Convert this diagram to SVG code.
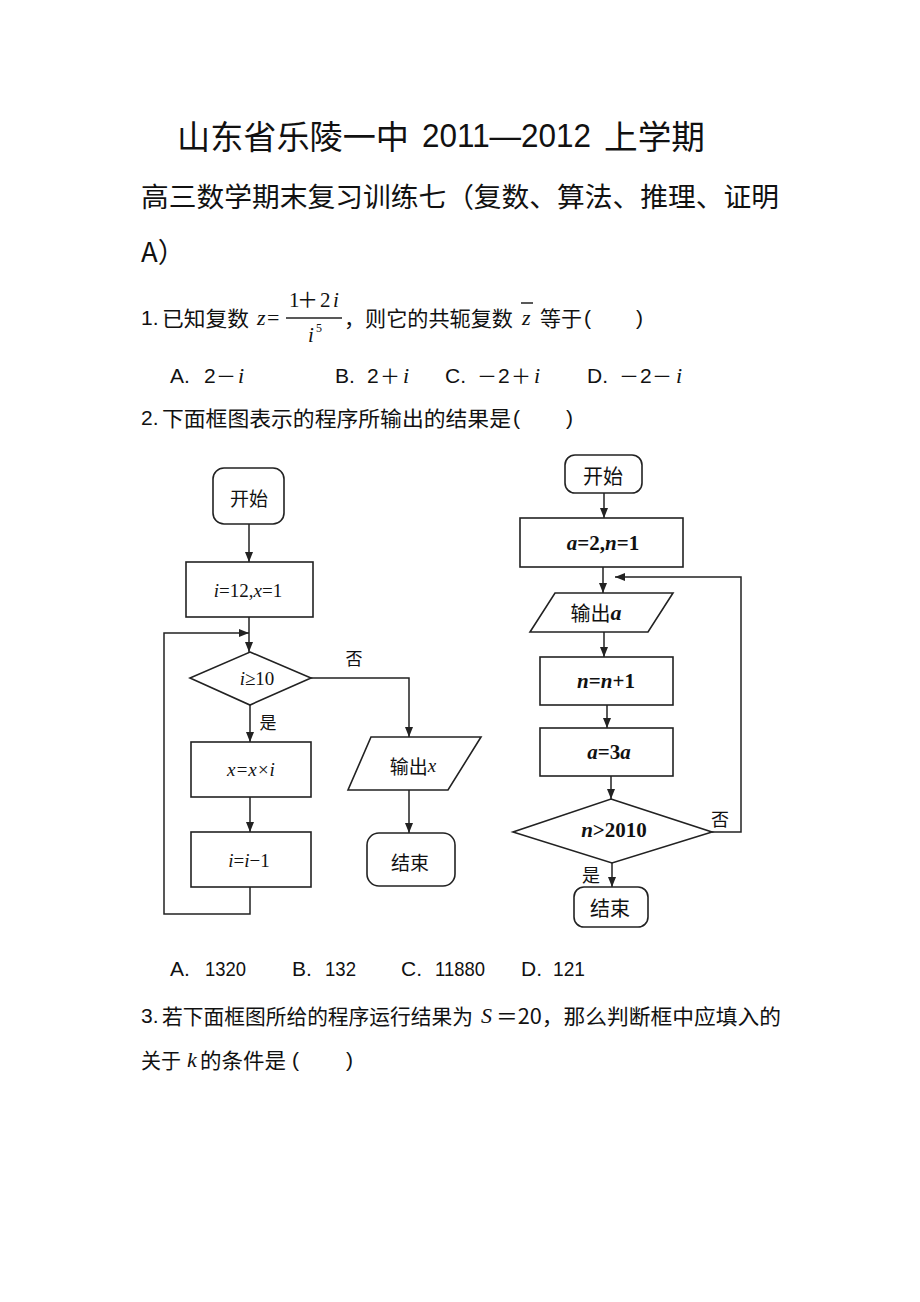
<svg xmlns="http://www.w3.org/2000/svg" width="920" height="1302" viewBox="0 0 920 1302">
<style>
text{dominant-baseline:central;fill:#111}
.cn{font-family:"Noto Sans CJK SC",sans-serif}
.lat{font-family:"Liberation Sans","Noto Sans CJK SC",sans-serif}
.m{font-family:"Liberation Serif","Noto Sans CJK SC",serif}
.it{font-style:italic}
.b{font-weight:bold}
.box{fill:#fff;stroke:#222;stroke-width:1.6}
.ln{fill:none;stroke:#222;stroke-width:1.5}
.ar{fill:none;stroke:#222;stroke-width:1.5;marker-end:url(#ah)}
</style>
<defs>
<marker id="ah" markerUnits="userSpaceOnUse" markerWidth="10" markerHeight="8" refX="10" refY="4" orient="auto">
<path d="M0,0 L10,4 L0,8 Z" fill="#222"/>
</marker>
</defs>
<rect width="920" height="1302" fill="#fff"/>

<g id="header">
<text x="177" y="135" class="cn" font-size="33" textLength="232" lengthAdjust="spacingAndGlyphs">山东省乐陵一中</text>
<text x="422" y="135" class="lat" font-size="33" textLength="169" lengthAdjust="spacingAndGlyphs">2011—2012</text>
<text x="604" y="135" class="cn" font-size="33" textLength="101" lengthAdjust="spacingAndGlyphs">上学期</text>
<text x="141" y="195" class="cn" font-size="27.5" textLength="638" lengthAdjust="spacingAndGlyphs">高三数学期末复习训练七（复数、算法、推理、证明</text>
<text x="141" y="250" class="cn" font-size="27.5">A）</text>
</g>

<g id="q1">
<text x="141" y="317" class="lat" font-size="21">1.</text>
<text x="162" y="317" class="cn" font-size="21" textLength="87" lengthAdjust="spacingAndGlyphs">已知复数</text>
<text x="257" y="317" class="m it" font-size="22">z</text>
<text x="267" y="317" class="m" font-size="22">=</text>
<text x="289" y="300" class="m" font-size="21"><tspan>1</tspan><tspan x="297">＋</tspan><tspan x="320">2</tspan><tspan x="333" class="it">i</tspan></text>
<line x1="286" y1="318" x2="342" y2="318" class="ln" stroke-width="1.2"/>
<text x="308" y="335" class="m it" font-size="21">i</text>
<text x="316" y="328" class="m" font-size="12">5</text>
<text x="344" y="317" class="cn" font-size="21" textLength="169" lengthAdjust="spacingAndGlyphs">，则它的共轭复数</text>
<line x1="521" y1="303" x2="533" y2="303" class="ln" stroke-width="1.5"/>
<text x="522" y="317" class="m it" font-size="22">z</text>
<text x="540" y="317" class="cn" font-size="21" textLength="42" lengthAdjust="spacingAndGlyphs">等于</text>
<text x="584" y="317" class="lat" font-size="21">(</text>
<text x="636" y="317" class="lat" font-size="21">)</text>

<text y="375" font-size="21" class="lat"><tspan x="170">A.</tspan><tspan x="204">2</tspan></text>
<text x="216" y="375" class="cn" font-size="20">－</text>
<text x="238" y="375" class="m it" font-size="22">i</text>
<text y="375" font-size="21" class="lat"><tspan x="335">B.</tspan><tspan x="367">2</tspan></text>
<text x="380" y="375" class="cn" font-size="20">＋</text>
<text x="403" y="375" class="m it" font-size="22">i</text>
<text x="445" y="375" font-size="21" class="lat">C.</text>
<text x="477" y="375" class="cn" font-size="20">－</text>
<text x="498" y="375" class="lat" font-size="21">2</text>
<text x="511" y="375" class="cn" font-size="20">＋</text>
<text x="534" y="375" class="m it" font-size="22">i</text>
<text x="587" y="375" font-size="21" class="lat">D.</text>
<text x="619" y="375" class="cn" font-size="20">－</text>
<text x="640" y="375" class="lat" font-size="21">2</text>
<text x="652" y="375" class="cn" font-size="20">－</text>
<text x="676" y="375" class="m it" font-size="22">i</text>
</g>

<g id="q2">
<text x="141" y="417" class="lat" font-size="21">2.</text>
<text x="162" y="417" class="cn" font-size="21" textLength="349" lengthAdjust="spacingAndGlyphs">下面框图表示的程序所输出的结果是</text>
<text x="513" y="417" class="lat" font-size="21">(</text>
<text x="566" y="417" class="lat" font-size="21">)</text>
</g>

<g id="connectors">
<path class="ar" d="M249,524 V562"/>
<path class="ar" d="M249,617 V652"/>
<path class="ar" d="M250,887 V914 H164 V633 H249"/>
<path class="ar" d="M311,678 H409 V737"/>
<path class="ar" d="M250,705 V742"/>
<path class="ar" d="M250,797 V832"/>
<path class="ar" d="M409,790 V833"/>
<path class="ar" d="M604,493 V518"/>
<path class="ar" d="M603,567 V593"/>
<path class="ar" d="M712,832 H741 V577 H615"/>
<path class="ar" d="M604,632 V657"/>
<path class="ar" d="M607,705 V728"/>
<path class="ar" d="M611,776 V799"/>
<path class="ar" d="M612,863 V887"/>
</g>

<g id="L_start">
<rect x="213" y="468" width="71" height="56" rx="11" class="box"/>
<text x="249" y="497" class="cn" font-size="19" text-anchor="middle">开始</text>
</g>
<g id="L_init">
<rect x="186" y="562" width="127" height="55" class="box"/>
<text x="248" y="590" class="m" font-size="19" text-anchor="middle"><tspan class="it">i</tspan>=12,<tspan class="it">x</tspan>=1</text>
</g>
<g id="L_cond">
<polygon points="250,652 311,678 250,705 190,678" class="box"/>
<text x="257" y="678" class="m" font-size="19" text-anchor="middle"><tspan class="it">i</tspan>≥10</text>
</g>
<g id="L_labels">
<text x="354" y="657" class="cn" font-size="17" text-anchor="middle">否</text>
<text x="268" y="721" class="cn" font-size="17" text-anchor="middle">是</text>
</g>
<g id="L_mul">
<rect x="191" y="742" width="120" height="55" class="box"/>
<text x="251" y="769" class="m it" font-size="19" text-anchor="middle">x=x×i</text>
</g>
<g id="L_dec">
<rect x="191" y="832" width="120" height="55" class="box"/>
<text x="249" y="860" class="m" font-size="19" text-anchor="middle"><tspan class="it">i</tspan>=<tspan class="it">i</tspan>−1</text>
</g>
<g id="L_out">
<polygon points="371,737 481,737 448,790 348,790" class="box"/>
<text x="413" y="765" class="cn" font-size="19" text-anchor="middle">输出<tspan class="m it">x</tspan></text>
</g>
<g id="L_end">
<rect x="367" y="833" width="88" height="53" rx="12" class="box"/>
<text x="410" y="861" class="cn" font-size="19" text-anchor="middle">结束</text>
</g>

<g id="R_start">
<rect x="565" y="455" width="77" height="38" rx="10" class="box"/>
<text x="603" y="475" class="cn" font-size="20" text-anchor="middle">开始</text>
</g>
<g id="R_init">
<rect x="520" y="518" width="163" height="49" class="box"/>
<text x="603" y="543" class="m b" font-size="21" text-anchor="middle"><tspan class="it">a</tspan>=2,<tspan class="it">n</tspan>=1</text>
</g>
<g id="R_out">
<polygon points="555,593 673,593 648,632 530,632" class="box"/>
<text x="596" y="612" class="cn" font-size="20" text-anchor="middle">输出<tspan class="m it b" font-size="22">a</tspan></text>
</g>
<g id="R_inc">
<rect x="540" y="657" width="133" height="48" class="box"/>
<text x="606" y="681" class="m b" font-size="21" text-anchor="middle"><tspan class="it">n</tspan>=<tspan class="it">n</tspan>+1</text>
</g>
<g id="R_mul">
<rect x="540" y="728" width="133" height="48" class="box"/>
<text x="609" y="752" class="m b" font-size="21" text-anchor="middle"><tspan class="it">a</tspan>=3<tspan class="it">a</tspan></text>
</g>
<g id="R_cond">
<polygon points="611,799 712,832 612,863 513,832" class="box"/>
<text x="614" y="830" class="m b" font-size="21" text-anchor="middle"><tspan class="it">n</tspan>&gt;2010</text>
</g>
<g id="R_labels">
<text x="720" y="818" class="cn" font-size="18" text-anchor="middle">否</text>
<text x="591" y="874" class="cn" font-size="18" text-anchor="middle">是</text>
</g>
<g id="R_end">
<rect x="574" y="887" width="74" height="40" rx="10" class="box"/>
<text x="610" y="907" class="cn" font-size="20" text-anchor="middle">结束</text>
</g>

<g id="q2_options">
<text x="170" y="968" class="lat" font-size="21">A.</text>
<text x="205" y="968" class="lat" font-size="21" textLength="41" lengthAdjust="spacingAndGlyphs">1320</text>
<text x="292" y="968" class="lat" font-size="21">B.</text>
<text x="325" y="968" class="lat" font-size="21" textLength="31" lengthAdjust="spacingAndGlyphs">132</text>
<text x="401" y="968" class="lat" font-size="21">C.</text>
<text x="435" y="968" class="lat" font-size="21" textLength="50" lengthAdjust="spacingAndGlyphs">11880</text>
<text x="521" y="968" class="lat" font-size="21">D.</text>
<text x="553" y="968" class="lat" font-size="21" textLength="32" lengthAdjust="spacingAndGlyphs">121</text>
</g>

<g id="q3">
<text x="141" y="1015" class="lat" font-size="21">3.</text>
<text x="162" y="1015" class="cn" font-size="21" textLength="311" lengthAdjust="spacingAndGlyphs">若下面框图所给的程序运行结果为</text>
<text x="481" y="1015" class="m it" font-size="22">S</text>
<text x="496" y="1015" class="cn" font-size="21" textLength="285" lengthAdjust="spacingAndGlyphs">＝20，那么判断框中应填入的</text>
<text x="141" y="1059" class="cn" font-size="21" textLength="40" lengthAdjust="spacingAndGlyphs">关于</text>
<text x="187" y="1059" class="m it" font-size="22">k</text>
<text x="200" y="1059" class="cn" font-size="21" textLength="86" lengthAdjust="spacingAndGlyphs">的条件是</text>
<text x="292" y="1059" class="lat" font-size="21">(</text>
<text x="346" y="1059" class="lat" font-size="21">)</text>
</g>
</svg>
